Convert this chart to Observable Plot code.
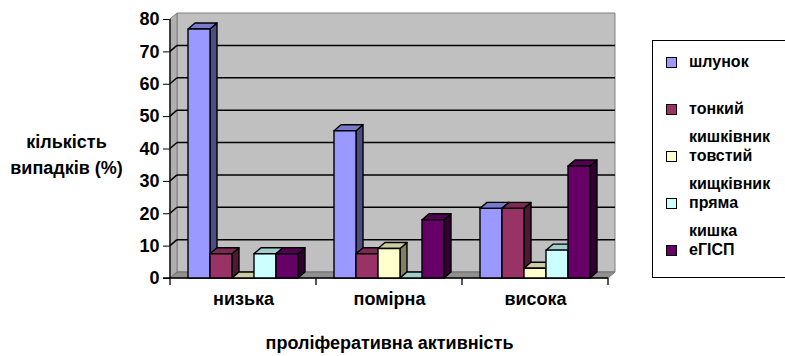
<!DOCTYPE html>
<html><head><meta charset="utf-8">
<script src="https://cdn.jsdelivr.net/npm/d3@7"></script>
<script src="https://cdn.jsdelivr.net/npm/@observablehq/plot@0.6"></script>
<style>
html,body{margin:0;padding:0;background:#fff;}
#wrap{position:relative;width:785px;height:356px;overflow:hidden;font-family:"Liberation Sans",Arial,sans-serif;font-weight:bold;}
#wrap svg{position:absolute;left:0;top:0;}
#legend{position:absolute;left:652px;top:40px;width:140px;height:238px;border:1px solid #000;box-sizing:border-box;background:#fff;}
.entry{position:absolute;left:13px;}
.sw{position:absolute;left:0;width:9px;height:9px;border:1px solid #000;}
.lab{position:absolute;left:23px;width:60px;line-height:28px;font-size:16px;color:#000;white-space:normal;}
</style></head><body><div id="wrap"></div>
<script>
const categories = ["низька", "помірна", "висока"];
const series = ["шлунок", "тонкий кишківник", "товстий кищківник", "пряма кишка", "еГІСП"];
const seriesColors = ["#9999ff", "#993366", "#ffffcc", "#ccffff", "#660066"];
const lowValues = [76.9, 7.5, 0, 7.5, 7.5];
const moderateValues = [45.5, 7.5, 9.1, 0, 18.0];
const highValues = [21.5, 21.5, 3.0, 8.6, 34.6];
const yTicks = [0, 10, 20, 30, 40, 50, 60, 70, 80];
const yTitle = "кількість\nвипадків (%)";
const xTitle = "проліферативна активність";

const valueSets = [lowValues, moderateValues, highValues];
const rows = categories.flatMap((c, ci) => series.map((s, si) => ({category: c, series: s, value: valueSets[ci][si]})));

const DX = 7, DY = -6;

function wallsRender(index, scales, values, dim) {
  const l = dim.marginLeft, t = dim.marginTop, r = dim.width - dim.marginRight, b = dim.height - dim.marginBottom;
  const g = d3.create("svg:g");
  const poly = (pts, fill, stroke) => g.append("polygon").attr("points", pts.map(p => p.join(",")).join(" ")).attr("fill", fill).attr("stroke", stroke).attr("stroke-width", 1);
  poly([[l + DX, t + DY], [r + DX, t + DY], [r + DX, b + DY], [l + DX, b + DY]], "#c0c0c0", "#808080");
  poly([[l, t], [l + DX, t + DY], [l + DX, b + DY], [l, b]], "#b0b0b0", "#808080");
  poly([[l, b], [l + DX, b + DY], [r + DX, b + DY], [r, b]], "#909090", "#707070");
  for (const tk of yTicks) {
    if (tk === yTicks[0] || tk === yTicks[yTicks.length - 1]) continue;
    const y = scales.y(tk);
    g.append("line").attr("x1", l + DX).attr("x2", r + DX).attr("y1", y + DY).attr("y2", y + DY).attr("stroke", "#000").attr("stroke-width", 1.5);
    g.append("line").attr("x1", l).attr("x2", l + DX).attr("y1", y).attr("y2", y + DY).attr("stroke", "#000").attr("stroke-width", 1.5);
  }
  g.append("line").attr("x1", l).attr("x2", l).attr("y1", t).attr("y2", b).attr("stroke", "#000").attr("stroke-width", 1.3);
  g.append("line").attr("x1", l - 7).attr("x2", r).attr("y1", b).attr("y2", b).attr("stroke", "#000").attr("stroke-width", 1.3);
  const n = categories.length;
  for (let k = 0; k <= n; k++) {
    const x = l + (r - l) * k / n;
    g.append("line").attr("x1", x).attr("x2", x).attr("y1", b).attr("y2", b + 7).attr("stroke", "#000").attr("stroke-width", 1.3);
  }
  return g.node();
}

function barsRender(index, scales, values) {
  const bw = scales.x.bandwidth();
  const g = d3.create("svg:g");
  for (const i of index) {
    const x0 = values.x[i], x1 = x0 + bw;
    const yb = Math.max(values.y1[i], values.y2[i]), yt = Math.min(values.y1[i], values.y2[i]);
    const c = d3.color(values.fill[i]);
    const side = d3.rgb(c.r * 0.5, c.g * 0.5, c.b * 0.5).formatHex();
    const top = d3.rgb(c.r * 0.8, c.g * 0.8, c.b * 0.8).formatHex();
    const bar = g.append("g").attr("stroke", "#000").attr("stroke-width", 1.4).attr("stroke-linejoin", "round");
    bar.append("polygon").attr("points", [[x1, yb], [x1 + DX, yb + DY], [x1 + DX, yt + DY], [x1, yt]].map(p => p.join(",")).join(" ")).attr("fill", side);
    bar.append("polygon").attr("points", [[x0, yt], [x0 + DX, yt + DY], [x1 + DX, yt + DY], [x1, yt]].map(p => p.join(",")).join(" ")).attr("fill", top);
    bar.append("rect").attr("x", x0).attr("y", yt).attr("width", bw).attr("height", yb - yt).attr("fill", c.formatHex());
  }
  return g.node();
}

const plot = Plot.plot({
  width: 785,
  height: 356,
  marginLeft: 170,
  marginRight: 177,
  marginTop: 19,
  marginBottom: 78,
  style: {fontFamily: "'Liberation Sans', Arial, sans-serif", fontWeight: "bold", fontSize: "18px", color: "#000", background: "transparent"},
  fx: {domain: categories, padding: 0, label: null, axis: "bottom", tickSize: 0, tickPadding: 14},
  x: {domain: series, axis: null, paddingInner: 0, paddingOuter: 0.75},
  y: {domain: [0, 80], ticks: yTicks, tickSize: 7, tickPadding: 4, label: null, tickFormat: d => String(d)},
  color: {domain: series, range: seriesColors},
  marks: [
    Plot.frame({facet: "super", fill: "none", stroke: "none", render: wallsRender}),
    Plot.barY(rows, {fx: "category", x: "series", y: "value", fill: "series", render: barsRender}),
    Plot.text([yTitle], {facet: "super", frameAnchor: "left", dx: -104, dy: 4, textAnchor: "middle", lineHeight: 1.45, fontSize: 18}),
    Plot.text([xTitle], {facet: "super", frameAnchor: "bottom", dy: 70, textAnchor: "middle", fontSize: 18})
  ]
});
const wrap = document.getElementById("wrap");
wrap.appendChild(plot);

const legend = document.createElement("div");
legend.id = "legend";
series.forEach((s, i) => {
  const e = document.createElement("div");
  e.className = "entry";
  e.style.top = (7 + 47 * i) + "px";
  const sw = document.createElement("div");
  sw.className = "sw";
  sw.style.top = "9px";
  sw.style.background = seriesColors[i];
  const lab = document.createElement("div");
  lab.className = "lab";
  lab.textContent = s;
  e.appendChild(sw);
  e.appendChild(lab);
  legend.appendChild(e);
});
wrap.appendChild(legend);
</script></body></html>
